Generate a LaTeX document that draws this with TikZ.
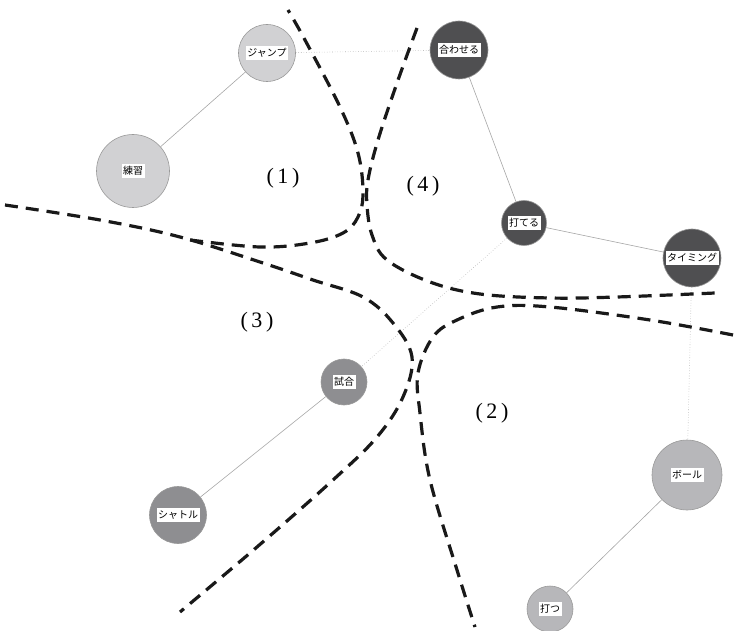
\documentclass[tikz,border=0pt]{standalone}
\usepackage{fontspec}
\newfontfamily\jp{Noto Sans CJK JP}
\newfontfamily\numfont{Liberation Serif}
\definecolor{paleg}{HTML}{D1D1D3}
\definecolor{softg}{HTML}{B7B7BA}
\definecolor{midg}{HTML}{8E8E91}
\definecolor{darkg}{HTML}{4F4F51}
\tikzset{
    % keyword circles
    word/.style={circle, draw=gray!80, line width=0.6pt, inner sep=0pt},
    wordpale/.style={word, fill=paleg},
    wordsoft/.style={word, fill=softg},
    wordmid/.style={word, fill=midg},
    worddark/.style={word, fill=darkg},
    tag/.style={fill=white, inner xsep=1.5pt, inner ysep=2.5pt, font=\jp\fontsize{10}{11}\selectfont},
    % links between keywords
    link/.style={gray!70, line width=0.6pt},
    weak/.style={gray!60, dotted, line width=0.6pt},
    % cluster boundaries
    border/.style={line width=3.2pt, dash pattern=on 13pt off 8pt, black!90},
    region/.style={font=\numfont\fontsize{22}{26}\selectfont}
}
\begin{document}
\begin{tikzpicture}[x=1pt, y=-1pt]
\useasboundingbox (0,0) rectangle (734,631);

% Keywords
\node[wordpale, minimum size=57] (jump) at (267,53) {};
\node[tag] at (jump) {ジャンプ};
\node[wordpale, minimum size=73] (renshu) at (133,171) {};
\node[tag] at (renshu) {練習};
\node[worddark, minimum size=58] (awase) at (459,50) {};
\node[tag] at (awase) {合わせる};
\node[worddark, minimum size=45] (uteru) at (524,223) {};
\node[tag] at (uteru) {打てる};
\node[worddark, minimum size=58] (timing) at (692,258) {};
\node[tag] at (timing) {タイミング};
\node[wordmid, minimum size=46] (shiai) at (344,382) {};
\node[tag] at (shiai) {試合};
\node[wordmid, minimum size=57] (shuttle) at (178,515) {};
\node[tag] at (shuttle) {シャトル};
\node[wordsoft, minimum size=70] (ball) at (687,475) {};
\node[tag] at (ball) {ボール};
\node[wordsoft, minimum size=46] (utsu) at (550,609) {};
\node[tag] at (utsu) {打つ};

% Links
\draw[link] (jump) -- (renshu);
\draw[link] (awase) -- (uteru);
\draw[link] (uteru) -- (timing);
\draw[link] (shiai) -- (shuttle);
\draw[link] (ball) -- (utsu);
\draw[weak] (jump) -- (awase);
\draw[weak] (uteru) -- (shiai);
\draw[weak] (timing) -- (ball);

% Boundaries
\draw[border] plot[smooth, tension=0.6] coordinates {(190,240) (260,247) (310,243) (343,233) (358,217) (363,193) (358,153) (340,107) (305,40) (288,10)};
\draw[border] plot[smooth, tension=0.6] coordinates {(417,28) (397,83) (378,140) (368,180) (367,205) (372,235) (387,260) (430,282) (480,294) (550,298) (617,297) (715,293)};
\draw[border] plot[smooth, tension=0.6] coordinates {(5,205) (100,220) (180,237) (263,263) (313,280) (363,297) (393,323) (412,357) (403,397) (377,437) (333,480) (257,547) (180,612)};
\draw[border] plot[smooth, tension=0.6] coordinates {(733,335) (650,320) (550,307) (497,307) (457,320) (433,337) (418,373) (420,413) (430,480) (457,570) (475,627)};

% Cluster numbers
\node[region] (r1) at (283,178) {(\,1\,)};
\node[region] (r2) at (492,413) {(\,2\,)};
\node[region] (r3) at (257,322) {(\,3\,)};
\node[region] (r4) at (423,186) {(\,4\,)};
\end{tikzpicture}
\end{document}
